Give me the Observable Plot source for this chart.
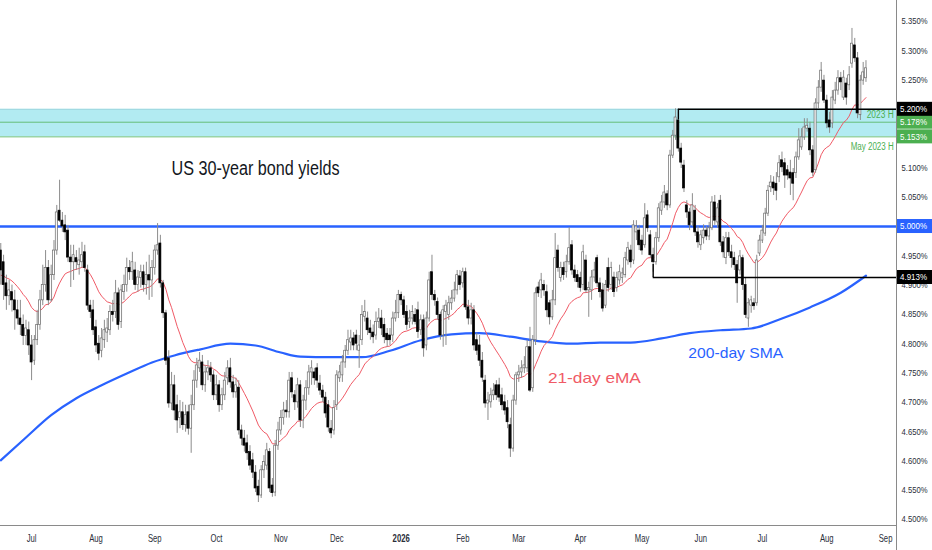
<!DOCTYPE html>
<html><head><meta charset="utf-8">
<script src="https://cdn.jsdelivr.net/npm/d3@7"></script>
<script src="https://cdn.jsdelivr.net/npm/@observablehq/plot@0.6"></script>
<style>
html,body{margin:0;padding:0;background:#fff;}
#chart{width:932px;height:550px;overflow:hidden;}
</style></head><body><div id="chart"></div>
<script>
// ---------- data (US 30-year yield, daily candles, %) ----------
const opens = [
4.959,4.939,4.903,4.881,4.888,4.874,4.857,4.843,4.832,4.813,
4.823,4.797,4.771,4.806,4.832,4.874,4.900,4.929,4.874,4.917,
4.959,5.027,5.010,5.002,4.993,4.947,4.939,4.946,4.934,4.939,
4.956,4.925,4.865,4.857,4.828,4.800,4.788,4.806,4.819,4.823,
4.854,4.854,4.886,4.837,4.888,4.900,4.929,4.922,4.925,4.900,
4.912,4.922,4.900,4.917,
4.908,4.929,4.959,4.971,4.903,4.852,4.775,4.698,4.729,4.695,
4.673,4.683,4.661,4.683,4.655,4.695,4.737,4.758,4.768,4.729,
4.751,4.758,4.746,4.712,4.729,4.695,4.712,4.741,4.758,4.734,
4.717,4.725,4.652,4.638,4.630,4.615,4.601,4.580,4.556,4.541,
4.584,4.592,4.615,4.558,4.546,4.626,4.652,4.673,4.686,4.683,
4.741,4.712,4.700,4.729,
4.669,4.703,4.724,4.751,4.751,4.758,4.732,4.720,4.708,4.695,
4.655,4.652,4.695,4.741,4.746,4.768,4.788,4.802,4.809,4.814,
4.788,4.806,4.846,4.843,4.826,4.819,4.814,4.837,4.843,4.832,
4.817,4.814,4.814,4.843,4.852,4.883,4.874,4.854,4.837,4.843,
4.849,4.857,4.823,4.840,4.797,4.843,4.922,4.883,4.871,4.849,
4.814,4.854,4.849,
4.869,4.877,4.891,4.915,4.903,4.922,4.862,4.843,4.857,4.806,
4.797,4.771,4.737,4.698,4.700,4.712,4.729,4.729,4.712,4.700,
4.690,4.661,4.621,4.703,4.746,4.751,4.758,4.758,4.794,4.724,
4.806,4.896,4.891,4.900,4.888,4.869,4.845,4.874,4.959,4.912,
4.929,4.922,4.939,4.968,4.925,4.917,4.912,4.900,4.942,4.891,
4.891,4.913,4.946,4.903,
4.891,4.865,4.929,4.900,4.913,4.895,4.908,4.912,4.917,4.942,
4.959,4.942,4.990,4.993,4.976,4.968,5.019,4.985,4.951,4.939,
4.980,5.027,5.041,5.055,5.036,5.121,5.155,5.181,5.133,5.104,
5.036,5.024,5.007,5.027,4.990,4.968,4.980,4.993,4.983,4.997,
5.041,5.007,5.044,4.973,4.946,4.980,4.956,4.946,4.934,4.925,
4.946,4.900,4.843,4.865,4.869,4.869,4.954,4.976,4.988,5.022,
5.067,5.075,5.073,5.084,5.113,5.108,5.096,5.092,5.091,5.091,
5.118,5.135,5.152,5.167,5.167,5.130,5.096,5.210,5.237,5.249,
5.215,5.181,5.176,5.215,5.232,5.253,5.220,5.244,5.241,5.278,
5.309,5.287,5.190,5.249,5.253
];
const highs = [
4.971,4.951,4.917,4.908,4.900,4.891,4.874,4.874,4.849,4.840,
4.837,4.814,4.814,4.857,4.891,4.934,4.959,4.942,4.934,4.976,
5.036,5.079,5.024,5.019,5.002,4.968,4.968,4.959,4.963,4.973,
4.968,4.934,4.874,4.874,4.840,4.814,4.826,4.840,4.843,4.865,
4.874,4.908,4.895,4.900,4.917,4.946,4.942,4.956,4.939,4.925,
4.934,4.934,4.939,4.951,
4.942,4.968,5.005,4.985,4.908,4.857,4.788,4.751,4.746,4.712,
4.703,4.700,4.695,4.695,4.712,4.754,4.775,4.785,4.780,4.763,
4.771,4.768,4.754,4.746,4.737,4.724,4.751,4.771,4.775,4.746,
4.741,4.737,4.661,4.652,4.644,4.626,4.613,4.592,4.567,4.592,
4.609,4.630,4.621,4.570,4.635,4.666,4.686,4.700,4.703,4.751,
4.751,4.720,4.741,4.737,
4.712,4.737,4.763,4.771,4.758,4.766,4.746,4.729,4.717,4.703,
4.669,4.703,4.754,4.763,4.780,4.797,4.823,4.823,4.819,4.823,
4.814,4.865,4.874,4.854,4.840,4.832,4.854,4.860,4.857,4.843,
4.826,4.826,4.854,4.874,4.891,4.888,4.881,4.865,4.857,4.865,
4.860,4.871,4.849,4.849,4.854,4.922,4.951,4.891,4.878,4.854,
4.865,4.874,4.881,
4.891,4.905,4.925,4.925,4.929,4.929,4.874,4.869,4.865,4.818,
4.814,4.785,4.746,4.717,4.724,4.732,4.737,4.741,4.724,4.712,
4.703,4.673,4.712,4.751,4.763,4.771,4.778,4.806,4.828,4.814,
4.895,4.905,4.920,4.908,4.900,4.874,4.891,4.988,4.968,4.939,
4.939,4.951,4.998,4.976,4.934,4.925,4.922,4.968,4.951,4.905,
4.925,4.939,4.951,4.912,
4.903,4.908,4.946,4.939,4.922,4.922,4.934,4.929,4.956,4.973,
4.968,5.010,5.010,5.002,4.985,5.039,5.027,4.993,4.963,4.990,
5.039,5.053,5.070,5.061,5.130,5.164,5.201,5.195,5.142,5.113,
5.044,5.031,5.056,5.036,5.000,4.993,5.003,5.000,5.007,5.051,
5.053,5.039,5.053,4.983,4.990,4.990,4.968,4.956,4.942,4.959,
4.951,4.912,4.877,4.881,4.877,4.951,4.985,5.002,5.031,5.070,
5.087,5.085,5.092,5.121,5.127,5.116,5.104,5.113,5.099,5.127,
5.167,5.167,5.184,5.184,5.178,5.138,5.218,5.249,5.280,5.258,
5.224,5.195,5.232,5.246,5.266,5.263,5.266,5.253,5.273,5.338,
5.321,5.297,5.258,5.280,5.283
];
const lows = [
4.900,4.874,4.857,4.865,4.854,4.823,4.832,4.814,4.797,4.797,
4.780,4.737,4.763,4.797,4.823,4.865,4.888,4.865,4.871,4.908,
4.951,5.007,4.990,4.976,4.939,4.896,4.908,4.925,4.917,4.929,
4.922,4.857,4.843,4.814,4.785,4.771,4.776,4.792,4.802,4.814,
4.837,4.843,4.823,4.826,4.874,4.888,4.908,4.908,4.891,4.888,
4.895,4.888,4.883,4.874,
4.879,4.917,4.951,4.895,4.843,4.763,4.690,4.686,4.669,4.647,
4.655,4.652,4.649,4.644,4.613,4.686,4.724,4.751,4.720,4.717,
4.737,4.734,4.703,4.703,4.683,4.686,4.703,4.729,4.724,4.707,
4.707,4.644,4.626,4.615,4.601,4.584,4.570,4.546,4.529,4.536,
4.570,4.584,4.546,4.538,4.539,4.618,4.644,4.661,4.673,4.673,
4.707,4.686,4.690,4.657,
4.655,4.686,4.712,4.729,4.729,4.724,4.712,4.700,4.673,4.649,
4.638,4.644,4.686,4.734,4.734,4.758,4.780,4.788,4.788,4.788,
4.758,4.797,4.837,4.814,4.806,4.800,4.806,4.826,4.814,4.800,
4.794,4.797,4.802,4.837,4.843,4.865,4.843,4.823,4.826,4.832,
4.832,4.809,4.814,4.777,4.788,4.837,4.874,4.864,4.840,4.806,
4.794,4.797,4.840,
4.857,4.871,4.883,4.891,4.895,4.857,4.832,4.832,4.788,4.780,
4.761,4.734,4.690,4.669,4.690,4.703,4.703,4.700,4.686,4.678,
4.655,4.606,4.615,4.695,4.734,4.741,4.749,4.751,4.717,4.717,
4.797,4.879,4.877,4.881,4.845,4.832,4.840,4.865,4.922,4.905,
4.908,4.912,4.934,4.917,4.905,4.895,4.888,4.891,4.886,4.845,
4.874,4.905,4.896,4.878,
4.854,4.860,4.888,4.891,4.879,4.888,4.900,4.903,4.912,4.934,
4.929,4.935,4.976,4.959,4.951,4.963,4.990,4.946,4.922,4.934,
4.973,5.019,5.031,5.027,5.031,5.116,5.147,5.127,5.099,5.058,
5.014,4.993,5.000,4.983,4.963,4.959,4.970,4.976,4.976,4.993,
5.002,4.997,4.966,4.946,4.935,4.949,4.929,4.925,4.869,4.917,
4.891,4.843,4.828,4.852,4.857,4.864,4.949,4.971,4.983,5.017,
5.058,5.053,5.044,5.075,5.092,5.065,5.079,5.053,5.044,5.082,
5.113,5.130,5.147,5.161,5.121,5.085,5.091,5.201,5.229,5.210,
5.167,5.159,5.167,5.208,5.224,5.232,5.215,5.207,5.232,5.270,
5.280,5.184,5.181,5.241,5.246
];
const closes = [
4.925,4.900,4.881,4.891,4.874,4.857,4.843,4.832,4.813,4.826,
4.797,4.768,4.806,4.832,4.874,4.900,4.929,4.874,4.917,4.959,
5.024,5.010,5.000,4.990,4.947,4.939,4.951,4.939,4.942,4.951,
4.929,4.865,4.854,4.823,4.797,4.783,4.809,4.823,4.826,4.854,
4.849,4.886,4.832,4.891,4.900,4.929,4.922,4.939,4.900,4.913,
4.922,4.900,4.917,4.908,
4.929,4.959,4.968,4.903,4.852,4.771,4.698,4.729,4.686,4.669,
4.683,4.661,4.678,4.655,4.695,4.737,4.763,4.771,4.729,4.751,
4.758,4.746,4.712,4.729,4.695,4.712,4.737,4.758,4.734,4.717,
4.729,4.652,4.638,4.626,4.613,4.592,4.580,4.553,4.541,4.584,
4.598,4.618,4.553,4.545,4.626,4.652,4.673,4.686,4.683,4.737,
4.717,4.700,4.729,4.669,
4.703,4.724,4.751,4.758,4.741,4.737,4.720,4.708,4.681,4.657,
4.647,4.690,4.746,4.751,4.768,4.788,4.806,4.809,4.797,4.800,
4.797,4.849,4.854,4.823,4.818,4.811,4.837,4.843,4.826,4.811,
4.806,4.806,4.843,4.852,4.883,4.874,4.849,4.832,4.843,4.854,
4.837,4.820,4.840,4.792,4.843,4.908,4.883,4.874,4.849,4.814,
4.857,4.865,4.869,
4.877,4.891,4.917,4.900,4.922,4.862,4.843,4.857,4.797,4.788,
4.771,4.742,4.698,4.703,4.712,4.720,4.712,4.708,4.695,4.686,
4.666,4.621,4.703,4.746,4.751,4.758,4.763,4.794,4.720,4.806,
4.886,4.886,4.908,4.891,4.857,4.845,4.874,4.946,4.929,4.929,
4.917,4.939,4.963,4.925,4.912,4.905,4.895,4.956,4.891,4.895,
4.913,4.925,4.903,4.888,
4.860,4.900,4.895,4.929,4.888,4.912,4.922,4.920,4.946,4.963,
4.939,5.002,5.000,4.968,4.959,5.014,4.997,4.951,4.939,4.980,
5.031,5.041,5.058,5.036,5.121,5.155,5.186,5.133,5.109,5.065,
5.024,5.002,5.036,4.990,4.973,4.985,4.993,4.983,4.997,5.041,
5.010,5.031,4.973,4.956,4.980,4.956,4.946,4.934,4.903,4.949,
4.900,4.849,4.869,4.874,4.864,4.942,4.976,4.993,5.022,5.061,
5.075,5.065,5.061,5.108,5.101,5.087,5.087,5.082,5.073,5.118,
5.147,5.152,5.169,5.172,5.130,5.092,5.210,5.237,5.266,5.215,
5.176,5.169,5.220,5.232,5.253,5.246,5.254,5.220,5.258,5.312,
5.287,5.193,5.249,5.263,5.270
];
const firstSession = "2025-06-16";
const monthLabels = ["Jul","Aug","Sep","Oct","Nov","Dec","2026","Feb","Mar","Apr","May","Jun","Jul","Aug","Sep"];
// price-scale ticks left visible (5.000, 5.150 and 5.200 sit under the price tags)
const yTicks = [4.50,4.55,4.60,4.65,4.70,4.75,4.80,4.85,4.90,4.95,5.05,5.10,5.25,5.30,5.35];
// 200-day SMA at these session indices
const smaSession = [0,9,18,27,36,45,54,62,71,82,91,100,107,118,129,139,150,161,171,182,193,204,214,225,236,246,257,268,279,289,300,309];
const smaValues  = [4.601,4.640,4.678,4.707,4.729,4.749,4.768,4.780,4.790,4.800,4.797,4.785,4.778,4.777,4.777,4.788,4.806,4.816,4.818,4.812,4.804,4.800,4.802,4.802,4.809,4.818,4.823,4.826,4.843,4.862,4.887,4.916];
const emaPeriod = 21;
const emaStart = 4.917;
const zoneLevels = [5.200, 5.178, 5.153];   // 2023 high zone
const level500 = 5.000;
const level4913 = 4.913;
const resistanceSession = 242, supportSession = 233;
const priceTags = [5.000, 4.913, 5.153, 5.178, 5.200];

// ---------- derived tables ----------
const FONT = "'Liberation Sans', Arial, 'DejaVu Sans', sans-serif";
const dates = [];
{ const d = new Date(firstSession + "T00:00:00Z");
  while (dates.length < 320) { const w = d.getUTCDay(); if (w !== 0 && w !== 6) dates.push(new Date(d)); d.setUTCDate(d.getUTCDate() + 1); } }
const monthStarts = [];
for (let i = 1; i < dates.length; i++) if (dates[i].getUTCMonth() !== dates[i-1].getUTCMonth()) monthStarts.push(i);
const xTicks = monthStarts.slice(0, monthLabels.length);
const tickLabel = new Map(xTicks.map((t, k) => [t, monthLabels[k]]));

const candles = closes.map((c, i) => ({i, o: opens[i], h: highs[i], l: lows[i], c}));
const up = candles.filter(d => d.c >= d.o), down = candles.filter(d => d.c < d.o);
let e = emaStart;
const ema = closes.map((c, i) => { if (i > 0) e = e + (2 / (emaPeriod + 1)) * (c - e); return {i, v: e}; });
const sma = smaSession.map((s, k) => ({i: s, v: smaValues[k]}));

const xDom = [-0.1, 319.9];
const yDom = [4.4898, 5.3857];

const chart = Plot.plot({
  width: 932, height: 550,
  marginLeft: 0, marginRight: 36, marginTop: 0, marginBottom: 25,
  x: {domain: xDom},
  y: {domain: yDom},
  style: {fontFamily: FONT, background: "#fff", color: "#131722", overflow: "visible"},
  marks: [
    Plot.rect([{a: zoneLevels[2], b: zoneLevels[0]}], {y1: "a", y2: "b", fill: "#b2ebf2"}),
    Plot.ruleY([zoneLevels[0]], {stroke: "#9ed6de", strokeWidth: 1}),
    Plot.ruleY([zoneLevels[1], zoneLevels[2]], {stroke: "#4caf50", strokeOpacity: 0.75, strokeWidth: 1}),
    Plot.ruleY([level500], {stroke: "#2962ff", strokeWidth: 2.4}),
    Plot.line(sma, {x: "i", y: "v", stroke: "#2962ff", strokeWidth: 2.2, curve: "monotone-x"}),
    Plot.line(ema, {x: "i", y: "v", stroke: "#f05a66", strokeWidth: 1}),
    Plot.ruleX(candles, {x: "i", y1: "l", y2: "h", stroke: "#8c8c8c", strokeWidth: 1}),
    Plot.rect(up, {x1: d => d.i - 0.36, x2: d => d.i + 0.36, y1: "o", y2: "c", fill: "#fff", stroke: "#6a6a6a", strokeWidth: 0.7}),
    Plot.rect(down, {x1: d => d.i - 0.36, x2: d => d.i + 0.36, y1: "o", y2: "c", fill: "#000", stroke: "#000", strokeWidth: 0.7}),
    Plot.ruleY([{y: zoneLevels[0], x1: resistanceSession, x2: xDom[1]}], {y: "y", x1: "x1", x2: "x2", stroke: "#000", strokeWidth: 1.6}),
    Plot.ruleX([{x: resistanceSession, y1: 5.182, y2: zoneLevels[0]}], {x: "x", y1: "y1", y2: "y2", stroke: "#000", strokeWidth: 1.4}),
    Plot.ruleY([{y: level4913, x1: supportSession, x2: xDom[1]}], {y: "y", x1: "x1", x2: "x2", stroke: "#000", strokeWidth: 1.6}),
    Plot.ruleX([{x: supportSession, y1: level4913, y2: 4.935}], {x: "x", y1: "y1", y2: "y2", stroke: "#000", strokeWidth: 1.4}),
    Plot.text([{x: 91, y: 5.099, t: "US 30-year bond yields"}], {x: "x", y: "y", text: "t", fontSize: 20, fill: "#131722"}),
    Plot.text([{x: 212, y: 4.741, t: "21-day eMA"}], {x: "x", y: "y", text: "t", fontSize: 15, fill: "#f05a66"}),
    Plot.text([{x: 262.5, y: 4.783, t: "200-day SMA"}], {x: "x", y: "y", text: "t", fontSize: 15, fill: "#2962ff"}),
    Plot.text([{x: 318.9, y: 5.191, t: "2023 H"}, {x: 318.9, y: 5.136, t: "May 2023 H"}], {x: "x", y: "y", text: "t", fontSize: 10, fill: "#4caf50", textAnchor: "end"}),
    Plot.frame({anchor: "bottom", stroke: "#8a8a8a"}),
    Plot.axisY(yTicks, {anchor: "right", tickSize: 0, tickPadding: 5, tickFormat: d => d.toFixed(3) + "%", fontSize: 9, fill: "#2a2e39", label: null}),
    Plot.axisX(xTicks, {anchor: "bottom", tickSize: 0, tickPadding: 9, tickFormat: i => tickLabel.get(i), fontSize: 11, fill: "#2a2e39", label: null})
  ]
});
document.getElementById("chart").appendChild(chart);

const svg = d3.select(chart);
const ys = chart.scale("y");
function fit(sel, w) { sel.attr("textLength", w).attr("lengthAdjust", "spacingAndGlyphs"); }
svg.selectAll("text").each(function() {
  const t = this.textContent, s = d3.select(this);
  if (t === "US 30-year bond yields") fit(s, 168);
  else if (t === "21-day eMA") fit(s, 93);
  else if (t === "200-day SMA") fit(s, 95);
  else if (t === "2023 H") fit(s, 27);
  else if (t === "May 2023 H") fit(s, 43);
  else if (/^\d\.\d{3}%$/.test(t)) fit(s, 26);
  else if (monthLabels.includes(t)) { if (t === "2026") s.attr("font-weight", "bold"); fit(s, this.getComputedTextLength() * 0.7); }
});
// right price scale border
svg.append("line").attr("x1", 896.5).attr("x2", 896.5).attr("y1", 0).attr("y2", 550).attr("stroke", "#8a8a8a");
// price tags
const tagFill = new Map([[5.000, "#2962ff"], [4.913, "#000"], [5.153, "#4caf50"], [5.178, "#4caf50"], [5.200, "#000"]]);
priceTags.forEach(v => {
  const y = ys.apply(v);
  svg.append("rect").attr("x", 897).attr("y", y - 7).attr("width", 35).attr("height", 14).attr("fill", tagFill.get(v));
  const t = svg.append("text").attr("x", 900).attr("y", y).attr("dy", "0.35em").attr("fill", "#fff")
    .attr("text-anchor", "start").attr("font-size", 9).attr("font-family", FONT).text(v.toFixed(3) + "%");
  fit(t, 27);
});
</script></body></html>
